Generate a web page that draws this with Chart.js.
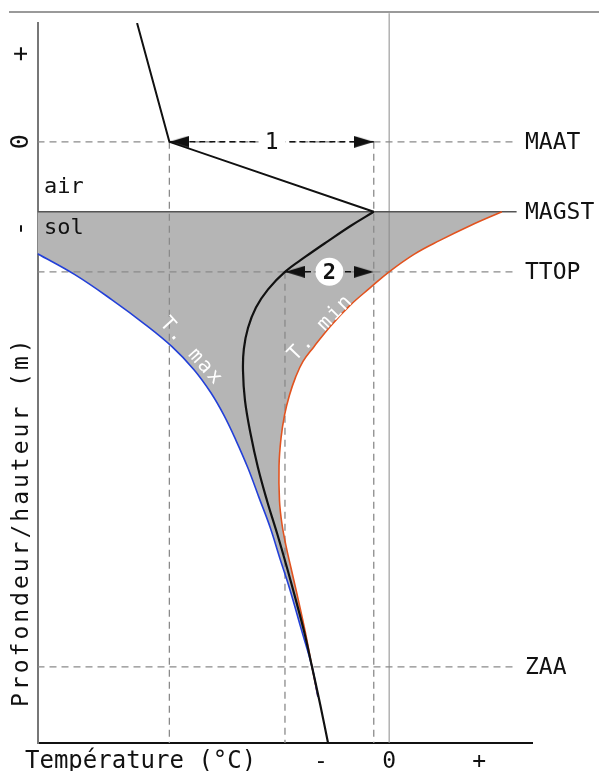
<!DOCTYPE html>
<html>
<head>
<meta charset="utf-8">
<script src="https://cdn.jsdelivr.net/npm/chart.js@4"></script>
<style>
  html, body { margin: 0; padding: 0; background: #fff; }
  canvas { display: block; }
</style>
</head>
<body>
<canvas id="profileChart" width="599" height="771"></canvas>
<script>
// axes (unités arbitraires)
const X_MIN = -16, X_MAX = 6.5, Y_MIN = -8.6, Y_MAX = 1.7;
const LINE_END = 5.8;

const tempTicks = [-3.1, 0, 4.1];
const tempTickLabels = ['-', '0', '+'];
const depthTicks = [1.26, 0, -1.24];
const depthTickLabels = ['+', '0', '-'];

const levelNames = ['MAAT', 'MAGST', 'TTOP', 'ZAA'];
const levelDepths = [0, -1.0, -1.86, -7.51];

const maat = -10;
const magst = -0.7;
const ttop = -4.74;

// profil dans l'air
const airTemp = [-11.47, -10, -0.7];
const airDepth = [1.7, 0, -1.0];

// profil moyen dans le sol
const meanTemp = [-0.7, -1.74, -2.78, -3.79, -4.74, -5.51, -6.06, -6.42, -6.61, -6.65, -6.56, -6.31, -5.97, -5.56, -5.1, -4.65, -4.24, -3.85, -3.51, -3.13, -2.78];
const meanDepth = [-1.0, -1.2, -1.42, -1.64, -1.86, -2.11, -2.37, -2.66, -2.96, -3.27, -3.7, -4.17, -4.66, -5.13, -5.6, -6.09, -6.56, -7.03, -7.51, -8.06, -8.6];

// T. max (bleu)
const maxTemp = [-16, -14.3, -12.61, -11.11, -9.88, -8.88, -8.11, -7.52, -6.97, -6.42, -5.92, -5.42, -4.97, -4.51, -4.01, -3.51, -3.24];
const maxDepth = [-1.6, -1.9, -2.26, -2.61, -2.93, -3.26, -3.59, -3.91, -4.27, -4.67, -5.09, -5.51, -5.96, -6.41, -6.96, -7.51, -7.94];

// T. min (rouge)
const minTemp = [5.13, 3.68, 2.31, 1.13, 0, -0.87, -1.78, -2.65, -3.42, -3.92, -4.26, -4.54, -4.76, -4.92, -5.01, -4.99, -4.88, -4.7, -4.47, -4.2, -3.83, -3.51, -3.24];
const minDepth = [-1.0, -1.2, -1.41, -1.61, -1.86, -2.09, -2.34, -2.63, -2.93, -3.14, -3.37, -3.63, -3.91, -4.24, -4.63, -5.13, -5.46, -5.77, -6.09, -6.46, -6.99, -7.51, -7.94];

const pts = (xs, ys) => xs.map((x, i) => ({x: x, y: ys[i]}));

const minPts = pts(minTemp, minDepth);
const maxPts = pts(maxTemp, maxDepth);
// zone grise entre T. min et T. max
const shape = [{x: X_MIN, y: levelDepths[1]}, minPts[0]].concat(minPts, maxPts.slice().reverse());

function makeArrowHead(len, half) {
    const c = document.createElement('canvas');
    c.width = len * 2;
    c.height = half * 2;
    const g = c.getContext('2d');
    g.fillStyle = '#111';
    g.beginPath();
    g.moveTo(0, 0);
    g.lineTo(len, half);
    g.lineTo(0, half * 2);
    g.closePath();
    g.fill();
    return c;
}
const arrowHead = makeArrowHead(20, 6);

const dashed = {borderColor: '#8a8a8a', borderWidth: 1.3, borderDash: [7, 5], pointRadius: 0, tension: 0, fill: false, order: 5};

const mono = '"DejaVu Sans Mono", monospace';

const labelsPlugin = {
    id: 'figureLabels',
    beforeDraw(chart) {
        const ctx = chart.ctx;
        ctx.save();
        ctx.strokeStyle = '#9a9a9a';
        ctx.lineWidth = 2;
        ctx.beginPath();
        ctx.moveTo(9, 12);
        ctx.lineTo(599, 12);
        ctx.stroke();
        ctx.restore();
    },
    afterDatasetsDraw(chart) {
        const {ctx, scales: {x, y}} = chart;
        ctx.save();
        ctx.fillStyle = '#111';
        ctx.font = '23px ' + mono;
        ctx.textBaseline = 'middle';
        ctx.textAlign = 'left';
        levelNames.forEach((name, i) => {
            ctx.fillText(name, 525, y.getPixelForValue(levelDepths[i]) + 1);
        });

        ctx.font = '22px ' + mono;
        ctx.fillText('air', 44, 187);
        ctx.fillText('sol', 44, 228);

        // "1"
        const c1x = x.getPixelForValue((maat + magst) / 2);
        const c1y = y.getPixelForValue(levelDepths[0]);
        ctx.fillStyle = '#fff';
        ctx.fillRect(c1x - 13, c1y - 12, 27, 24);
        ctx.fillStyle = '#111';
        ctx.font = '23px ' + mono;
        ctx.textAlign = 'center';
        ctx.fillText('1', c1x, c1y + 1);

        // "2"
        const c2x = x.getPixelForValue((ttop + magst) / 2);
        const c2y = y.getPixelForValue(levelDepths[2]);
        ctx.fillStyle = '#fff';
        ctx.beginPath();
        ctx.arc(c2x, c2y, 14, 0, Math.PI * 2);
        ctx.fill();
        ctx.fillStyle = '#111';
        ctx.font = 'bold 22px ' + mono;
        ctx.fillText('2', c2x, c2y + 1);

        // T. max / T. min
        ctx.fillStyle = '#fff';
        ctx.font = '20px ' + mono;
        ctx.letterSpacing = '2px';
        ctx.save();
        ctx.translate(x.getPixelForValue(-9.0), y.getPixelForValue(-3.0));
        ctx.rotate(48 * Math.PI / 180);
        ctx.fillText('T. max', 0, 0);
        ctx.restore();
        ctx.save();
        ctx.translate(x.getPixelForValue(-3.1), y.getPixelForValue(-2.66));
        ctx.rotate(-46 * Math.PI / 180);
        ctx.fillText('T. min', 0, 0);
        ctx.restore();

        // titres des axes
        ctx.fillStyle = '#111';
        ctx.textBaseline = 'alphabetic';
        ctx.textAlign = 'left';
        ctx.font = '24px ' + mono;
        ctx.letterSpacing = '0px';
        ctx.fillText('Température (°C)', 25, 768);

        ctx.save();
        ctx.translate(28, 707);
        ctx.rotate(-Math.PI / 2);
        ctx.font = '23px ' + mono;
        ctx.letterSpacing = '3px';
        ctx.fillText('Profondeur/hauteur (m)', 0, 0);
        ctx.restore();
        ctx.restore();
    }
};

new Chart(document.getElementById('profileChart').getContext('2d'), {
    type: 'line',
    data: {
        datasets: [
            {data: shape, borderWidth: 0, backgroundColor: '#b5b5b5', fill: 'shape', pointRadius: 0, tension: 0.4, order: 10},
            Object.assign({}, dashed, {data: [{x: X_MIN, y: levelDepths[0]}, {x: LINE_END, y: levelDepths[0]}]}),
            Object.assign({}, dashed, {data: [{x: X_MIN, y: levelDepths[2]}, {x: LINE_END, y: levelDepths[2]}]}),
            Object.assign({}, dashed, {data: [{x: X_MIN, y: levelDepths[3]}, {x: LINE_END, y: levelDepths[3]}]}),
            Object.assign({}, dashed, {data: [{x: maat, y: levelDepths[0]}, {x: maat, y: Y_MIN}]}),
            Object.assign({}, dashed, {data: [{x: ttop, y: levelDepths[2]}, {x: ttop, y: Y_MIN}]}),
            Object.assign({}, dashed, {data: [{x: magst, y: levelDepths[0]}, {x: magst, y: Y_MIN}]}),
            {data: [{x: 0, y: Y_MIN}, {x: 0, y: 1.84}], borderColor: '#8a8a8a', borderWidth: 1, pointRadius: 0, clip: false, fill: false, order: 5},
            {data: [{x: X_MIN, y: levelDepths[1]}, {x: LINE_END, y: levelDepths[1]}], borderColor: '#555', borderWidth: 1.6, pointRadius: 0, fill: false, order: 4},
            {data: maxPts, borderColor: '#2340d8', borderWidth: 1.6, pointRadius: 0, tension: 0.4, fill: false, order: 3},
            {data: minPts, borderColor: '#e2531f', borderWidth: 1.6, pointRadius: 0, tension: 0.4, fill: false, order: 3},
            {data: pts(airTemp, airDepth), borderColor: '#111', borderWidth: 2, pointRadius: 0, tension: 0, fill: false, order: 2},
            {data: pts(meanTemp, meanDepth), borderColor: '#111', borderWidth: 2.2, pointRadius: 0, tension: 0.4, fill: false, order: 2},
            {data: [{x: maat, y: levelDepths[0]}, {x: magst, y: levelDepths[0]}], borderColor: '#111', borderWidth: 1.5, borderDash: [6, 4],
             pointStyle: arrowHead, pointRadius: 4, pointRotation: [180, 0], fill: false, order: 1},
            {data: [{x: ttop, y: levelDepths[2]}, {x: magst, y: levelDepths[2]}], borderColor: '#111', borderWidth: 1.5, borderDash: [6, 4],
             pointStyle: arrowHead, pointRadius: 4, pointRotation: [180, 0], fill: false, order: 1}
        ]
    },
    options: {
        responsive: false,
        animation: false,
        events: [],
        layout: { padding: { left: 0, top: 22, right: 67, bottom: 0 } },
        plugins: {
            legend: { display: false },
            tooltip: { enabled: false }
        },
        scales: {
            x: {
                type: 'linear',
                min: X_MIN,
                max: X_MAX,
                grid: { display: false, drawTicks: false },
                border: { color: '#111', width: 2 },
                afterBuildTicks: s => { s.ticks = tempTicks.map(v => ({value: v})); },
                afterFit: s => { s.height = 28; },
                ticks: {
                    autoSkip: false,
                    maxRotation: 0,
                    padding: 5,
                    color: '#111',
                    font: { family: 'DejaVu Sans Mono', size: 23 },
                    callback: (v, i) => tempTickLabels[i]
                }
            },
            y: {
                type: 'linear',
                min: Y_MIN,
                max: Y_MAX,
                grid: { display: false, drawTicks: false },
                border: { color: '#777', width: 2 },
                afterBuildTicks: s => { s.ticks = depthTicks.map(v => ({value: v})); },
                afterFit: s => { s.width = 37.5; },
                ticks: {
                    autoSkip: false,
                    minRotation: 90,
                    maxRotation: 90,
                    crossAlign: 'center',
                    padding: 8,
                    color: '#111',
                    font: { family: 'DejaVu Sans Mono', size: 25 },
                    callback: (v, i) => depthTickLabels[i]
                }
            }
        }
    },
    plugins: [labelsPlugin]
});
</script>
</body>
</html>
